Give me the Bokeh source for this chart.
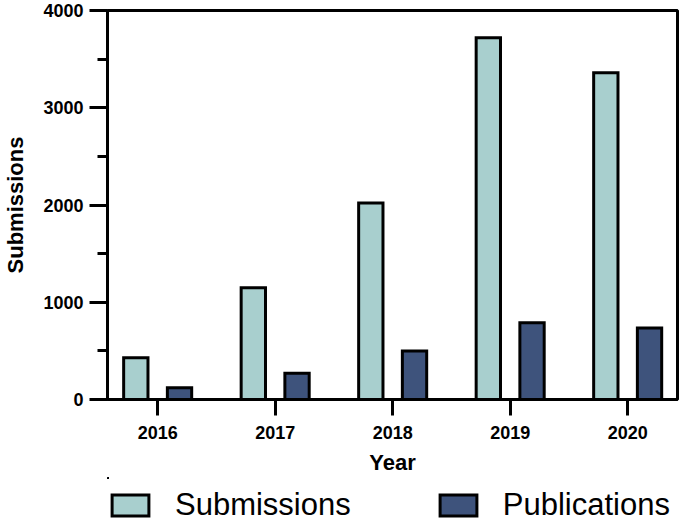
import numpy as np
from bokeh.plotting import figure
from bokeh.layouts import column
from bokeh.models import Range1d, FixedTicker, SingleIntervalTicker, Legend, LegendItem
from bokeh.embed import file_html
from bokeh.resources import INLINE

years = ["2016", "2017", "2018", "2019", "2020"]
submissions = [430, 1150, 2020, 3720, 3360]
publications = [120, 270, 500, 790, 735]
series_names = ["Submissions", "Publications"]
series_colors = ["#A8CFCE", "#3E537C"]

FONT = "Liberation Sans"

idx = np.arange(len(years))
offset = 0.186
bar_w = 0.207

p = figure(width=680, height=477, output_backend="svg", toolbar_location=None,
           x_range=Range1d(-0.427, 4.424), y_range=Range1d(0, 4000),
           min_border_left=98, min_border_right=3, min_border_top=10, min_border_bottom=78)

p.grid.visible = False
p.outline_line_color = "black"
p.outline_line_width = 3
p.background_fill_color = "white"
p.border_fill_color = "white"

bar_style = dict(width=bar_w, line_color="black", line_width=3, line_join="miter")
r1 = p.vbar(x=idx - offset, top=submissions, fill_color=series_colors[0], **bar_style)
r2 = p.vbar(x=idx + offset, top=publications, fill_color=series_colors[1], **bar_style)

xa = p.xaxis[0]
xa.ticker = FixedTicker(ticks=list(idx), minor_ticks=[])
xa.major_label_overrides = {int(i): y for i, y in zip(idx, years)}
xa.axis_label = "Year"
xa.axis_line_width = 3
xa.major_tick_line_width = 3
xa.major_tick_in = 0
xa.major_tick_out = 16
xa.major_label_standoff = 10
xa.major_label_text_font = FONT
xa.major_label_text_font_style = "bold"
xa.major_label_text_font_size = "18px"
xa.major_label_text_color = "black"
xa.axis_label_text_font = FONT
xa.axis_label_text_font_style = "bold"
xa.axis_label_text_font_size = "22px"
xa.axis_label_text_color = "black"
xa.axis_label_standoff = 8

ya = p.yaxis[0]
ya.ticker = SingleIntervalTicker(interval=1000, num_minor_ticks=2)
ya.axis_label = "Submissions"
ya.axis_line_width = 3
ya.major_tick_line_width = 3
ya.minor_tick_line_width = 3
ya.major_tick_in = 0
ya.major_tick_out = 18
ya.minor_tick_in = 0
ya.minor_tick_out = 10
ya.major_label_standoff = 6
ya.major_label_text_font = FONT
ya.major_label_text_font_style = "bold"
ya.major_label_text_font_size = "18px"
ya.major_label_text_color = "black"
ya.axis_label_text_font = FONT
ya.axis_label_text_font_style = "bold"
ya.axis_label_text_font_size = "22px"
ya.axis_label_text_color = "black"
ya.axis_label_standoff = 12

# legend strip below the chart (its bars lie far outside its visible range, only the legend shows)
lf = figure(width=680, height=47, output_backend="svg", toolbar_location=None,
            x_range=Range1d(1000, 1001), y_range=Range1d(-100000, -99999),
            x_axis_location=None, y_axis_location=None,
            min_border_left=0, min_border_right=0, min_border_top=0, min_border_bottom=0)
lf.grid.visible = False
lf.outline_line_color = None
lf.border_fill_color = "white"
k1 = lf.vbar(x=idx - offset, top=submissions, fill_color=series_colors[0], **bar_style)
k2 = lf.vbar(x=idx + offset, top=publications, fill_color=series_colors[1], **bar_style)

legend = Legend(items=[LegendItem(label=series_names[0], renderers=[k1]),
                       LegendItem(label=series_names[1], renderers=[k2])],
                orientation="horizontal", location=(0, 1),
                glyph_width=46, glyph_height=26, label_text_font=FONT,
                label_text_font_size="31px", label_text_color="black",
                label_standoff=22, spacing=84, padding=0, margin=0,
                border_line_alpha=0, background_fill_alpha=0)
lf.add_layout(legend, "center")

layout = column(p, lf, spacing=0)
open("out.html", "w").write(file_html(layout, INLINE))
